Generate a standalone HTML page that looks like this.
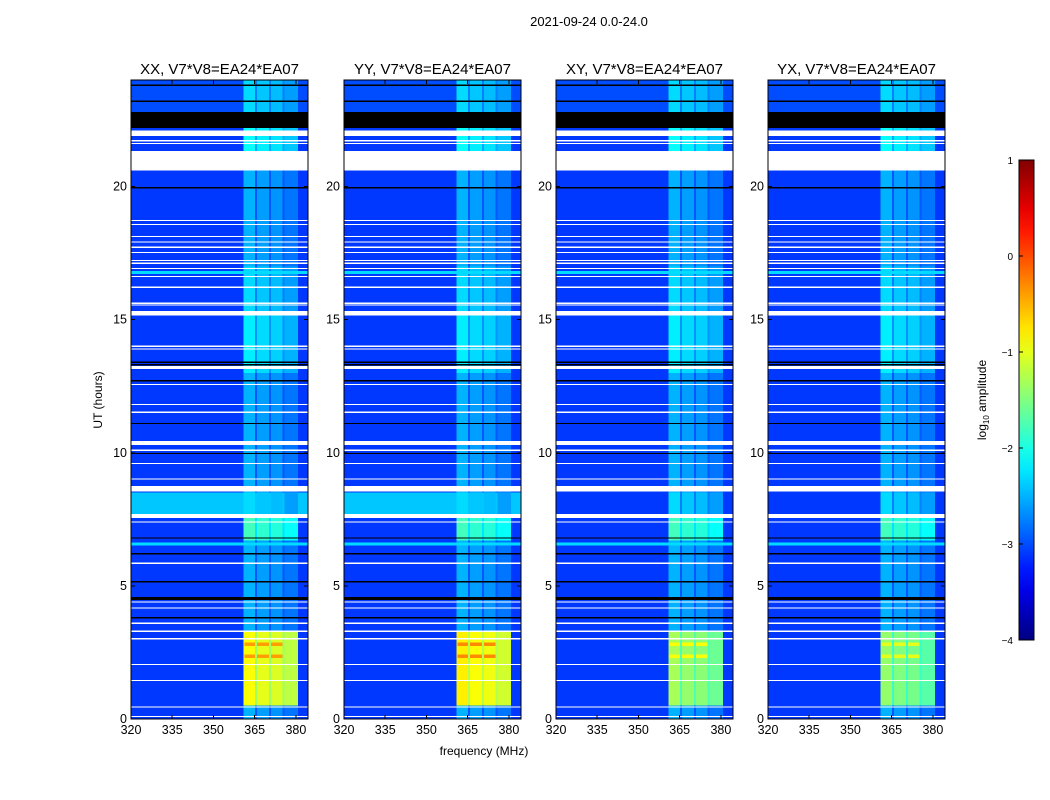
<!DOCTYPE html>
<html><head><meta charset="utf-8">
<style>
body{margin:0;background:#fff;}
svg{display:block;font-family:"Liberation Sans","DejaVu Sans",sans-serif;}
</style></head>
<body>
<svg id="fig" width="1050" height="800" xmlns="http://www.w3.org/2000/svg">
<rect width="1050" height="800" fill="#fff"/>
<text x="589" y="26" font-size="13" text-anchor="middle">2021-09-24 0.0-24.0</text>
<text x="484" y="755" font-size="12" text-anchor="middle">frequency (MHz)</text>
<text transform="translate(102,400) rotate(-90)" font-size="12" text-anchor="middle">UT (hours)</text>
<g id="panels" shape-rendering="crispEdges"></g>
<g id="cbar"></g>
</svg>
<script>
// ---- data ----
const panelTitles = ["XX, V7*V8=EA24*EA07","YY, V7*V8=EA24*EA07","XY, V7*V8=EA24*EA07","YX, V7*V8=EA24*EA07"];
const xTicks = [320,335,350,365,380];
const yTicks = [0,5,10,15,20];
const cbarTicks = [1,0,-1,-2,-3,-4];
// time segments (hours)
const segStart = [0,0.5,3.3,6.7,7.6,8.5,13,15.2,17,20.6,21.3,22.2,22.8];
const segEnd   = [0.5,3.3,6.7,7.6,8.5,13,15.2,17,20.6,21.3,22.2,22.8,24];
const bgLevel  = [-3.1,-3.1,-3.1,-3.1,-2.5,-3.1,-3.1,-3.1,-3.1,-3.1,-3.1,-9,-3.0];
const colLevel = [-2.6,-1.0,-2.6,-1.9,-2.4,-2.6,-2.3,-2.4,-2.6,-2.6,-2.2,-2.2,-2.4];
// per-panel levels for hot block (0.5-3.3 h) and the 7.6-8.5 h background band
const hotLevel  = [-1.0,-0.9,-1.4,-1.5];
const cyanBand  = [-2.4,-2.4,-3.1,-3.1];
// RFI sub-bands (MHz), contiguous
const bandLo = [361,365.5,370.5,375.5];
const bandHi = [365.5,370.5,375.5,380.5];
const bandOffset = [0.1,0,-0.05,-0.2];
// dim gaps between sub-bands (MHz)
const gapAt = [365.5,370.5,375.5];
// orange stripes inside hot block (hours)
const stripeHours = [2.3,2.75];
const stripeLevel = [-0.4,-0.3,-0.9,-1.0];
// flagged (white) rows [start,end] hours
const flagStart = [0.08,0.43,1.43,2.03,3.0,3.28,3.58,4.15,4.38,5.83,7.38,7.55,8.55,9.0,9.58,10.08,10.3,11.5,11.8,12.55,13.15,13.88,13.98,15.15,15.53,15.6,16.2,16.6,16.9,17.1,17.2,17.5,17.7,17.9,18.1,18.55,18.7,20.6,21.6,21.7,21.9];
const flagEnd   = [0.12,0.47,1.47,2.07,3.04,3.32,3.62,4.19,4.42,5.87,7.42,7.7,8.75,9.04,9.62,10.12,10.45,11.55,11.84,12.59,13.25,13.92,14.02,15.32,15.57,15.64,16.24,16.64,16.94,17.14,17.24,17.54,17.74,17.94,18.14,18.59,18.74,21.33,21.64,21.74,22.1];
// black (zero) rows
const blackHours = [3.8,4.5,4.55,5.15,6.2,6.8,9.97,11.1,12.7,13.3,13.4,19.95,23.2,23.8];
const cyanRows = [4.5,6.55,16.75];

// ---- colormap (jet) ----
function jet(v){
  if(v<-4.5) return "#000";
  let t=Math.max(0,Math.min(1,(v+4)/5));
  const c=x=>Math.round(255*Math.max(0,Math.min(1,x)));
  const r=c(1.5-Math.abs(4*t-3)), g=c(1.5-Math.abs(4*t-2)), b=c(1.5-Math.abs(4*t-1));
  return `rgb(${r},${g},${b})`;
}
const NS="http://www.w3.org/2000/svg";
function mk(tag,attrs,parent){const e=document.createElementNS(NS,tag);for(const k in attrs)e.setAttribute(k,attrs[k]);parent.appendChild(e);return e;}
const panelLeft=[131,344,556,768], PW=177, TOP=80, BOT=719;
const fMin=320,fMax=384.4,hMax=24;
const panels=document.getElementById("panels");
panelLeft.forEach((L,p)=>{
  const X=f=>L+(f-fMin)/(fMax-fMin)*PW;
  const Y=h=>BOT-h/hMax*(BOT-TOP);
  const g=mk("g",{},panels);
  
  
  for(let i=0;i<segStart.length;i++){
    let bg=bgLevel[i]; if(segStart[i]===7.6) bg=cyanBand[p];
    const y0=Y(segEnd[i]), hh=Y(segStart[i])-Y(segEnd[i]);
    const r=mk("rect",{x:L,y:y0,width:PW,height:hh,fill:jet(bg)},g);
    
    
    if(bg<-4.5) continue;
    let cl=colLevel[i]; if(segStart[i]===0.5) cl=hotLevel[p];
    for(let b=0;b<bandLo.length;b++){
      const rr=mk("rect",{x:X(bandLo[b]),y:y0,width:X(bandHi[b])-X(bandLo[b])+0.5,height:hh,fill:jet(cl+bandOffset[b])},g);
      
      
    }
    gapAt.forEach(f=>{
      const gr=mk("rect",{x:X(f)-1,y:y0,width:2,height:hh,fill:jet(Math.max(bg,cl-0.35))},g);
      
      
    });
  }
  stripeHours.forEach(h=>{
    for(let b=0;b<bandLo.length-1;b++){
      const s=mk("rect",{x:X(bandLo[b])+1,y:Y(h+0.12),width:X(bandHi[b])-X(bandLo[b])-2,height:Y(h)-Y(h+0.12),fill:jet(stripeLevel[p])},g);
      
      
    }
  });
  cyanRows.forEach(h=>{const r=mk("rect",{x:L,y:Y(h)-2,width:PW,height:3,fill:jet(-2.3)},g);
    });
  blackHours.forEach(h=>{const r=mk("rect",{x:L,y:Y(h)-0.7,width:PW,height:1.4,fill:"#000"},g);
    });
  for(let i=0;i<flagStart.length;i++){
    const r=mk("rect",{x:L,y:Y(flagEnd[i]),width:PW,height:Math.max(1.2,Y(flagStart[i])-Y(flagEnd[i])),fill:"#fff"},g);
    
  }
  const fr=mk("rect",{x:L,y:TOP,width:PW,height:BOT-TOP,fill:"none",stroke:"#000","stroke-width":1},g);
  
  const t=mk("text",{x:L+PW/2,y:74,"font-size":15,"text-anchor":"middle"},g);t.textContent=panelTitles[p];
  
  xTicks.forEach(v=>{
    mk("line",{x1:X(v),x2:X(v),y1:BOT,y2:BOT-4,stroke:"#000"},g);
    mk("line",{x1:X(v),x2:X(v),y1:TOP,y2:TOP+4,stroke:"#000"},g);
    const tx=mk("text",{x:X(v),y:BOT+15,"font-size":12.5,"text-anchor":"middle"},g);tx.textContent=v;
    
  });
  yTicks.forEach(v=>{
    mk("line",{x1:L,x2:L+4,y1:Y(v),y2:Y(v),stroke:"#000"},g);
    mk("line",{x1:L+PW,x2:L+PW-4,y1:Y(v),y2:Y(v),stroke:"#000"},g);
    const tx=mk("text",{x:L-4,y:Y(v)+4,"font-size":12.5,"text-anchor":"end"},g);tx.textContent=v;
    
  });
});
// colorbar
const cb=document.getElementById("cbar");
const CBL=1019,CBW=15,CBT=160,CBB=640;
const defs=mk("defs",{},cb);
const grad=mk("linearGradient",{id:"jetg",x1:0,y1:1,x2:0,y2:0},defs);
for(let i=0;i<=20;i++){mk("stop",{offset:(i/20),"stop-color":jet(-4+5*i/20)},grad);}
mk("rect",{x:CBL,y:CBT,width:CBW,height:CBB-CBT,fill:"url(#jetg)",stroke:"#000"},cb);
const CY=v=>CBB-(v+4)/5*(CBB-CBT);
cbarTicks.forEach(v=>{
  mk("line",{x1:CBL,x2:CBL+4,y1:CY(v),y2:CY(v),stroke:"#000"},cb);
  const tx=mk("text",{x:1013,y:CY(v)+4,"font-size":10,"text-anchor":"end"},cb);tx.textContent=(v<0?"\u2212"+(-v):v);
  
});
const lab=mk("text",{transform:"translate(986,400) rotate(-90)","font-size":12,"text-anchor":"middle"},cb);
lab.innerHTML='log<tspan font-size="8" dy="3">10</tspan><tspan dy="-3"> amplitude</tspan>';

</script>
</body></html>
